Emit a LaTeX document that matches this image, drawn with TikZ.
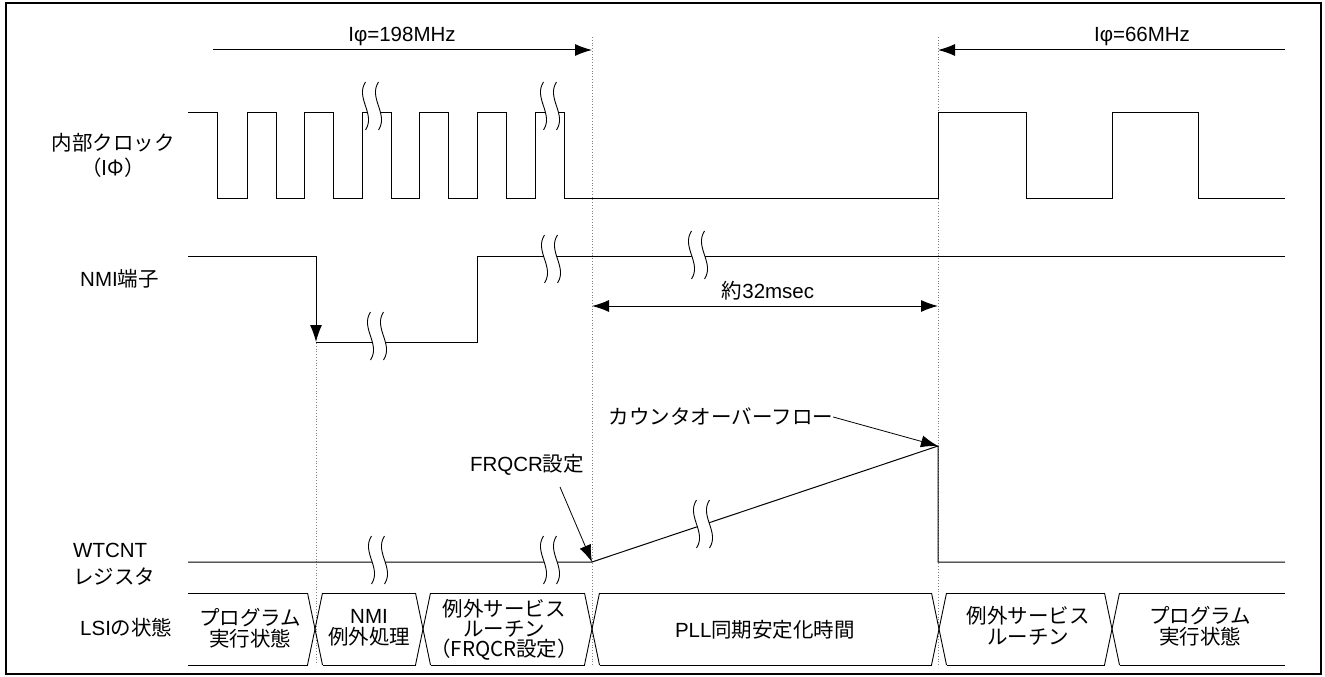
\documentclass[tikz,border=0pt]{standalone}
\usepackage{fontspec}
\setmainfont{Liberation Sans}
\newfontfamily\jp{Noto Sans CJK JP}
\usetikzlibrary{arrows.meta}
\begin{document}
\begin{tikzpicture}[x=1pt,y=-1pt,
  sig/.style={line width=1pt, line join=miter},
  guide/.style={gray, dotted, line width=0.8pt},
  arr/.style={line width=1pt, -{Latex[length=17pt,width=12pt]}},
  darr/.style={line width=1pt, {Latex[length=17pt,width=12pt]}-{Latex[length=17pt,width=12pt]}},
  thinarr/.style={line width=0.8pt, -{Latex[length=17pt,width=12pt]}},
  lbl/.style={inner sep=0pt, font=\fontsize{20.5}{21}\selectfont, align=center},
  brk/.pic={
    \fill[white] (-6.5,-24) .. controls (-17,-8) and (4,8) .. (-6.5,24) -- (6.5,24) .. controls (17,8) and (-4,-8) .. (6.5,-24) -- cycle;
    \draw[line width=0.9pt] (-6.5,-24) .. controls (-17,-8) and (4,8) .. (-6.5,24);
    \draw[line width=0.9pt] (6.5,-24) .. controls (-4,-8) and (17,8) .. (6.5,24);
  }
]
\useasboundingbox (0,0) rectangle (1325,677);
\draw[line width=2pt] (6,3) rectangle (1321,674);

% guides
\draw[guide] (316,343) -- (316,665);
\draw[guide] (592,37) -- (592,665);
\draw[guide] (938,37) -- (938,665);

% top frequency arrows
\coordinate (fA) at (592,50);
\coordinate (fB) at (938,50);
\coordinate (fAs) at (213,50);
\coordinate (fBs) at (1285,50);
\draw[arr] (fAs) -- (fA);
\draw[arr] (fBs) -- (fB);
\node[lbl] (f198) at (402,36) {Iφ=198MHz};
\node[lbl] (f66) at (1142,36) {Iφ=66MHz};

% left labels
\node[lbl, font=\fontsize{20.5}{25}\selectfont] (lclk) at (113,155) {\jp 内部クロック\\\jp （IΦ）};
\node[lbl, anchor=west] (lnmi) at (80,279) {NMI{\jp 端子}};
\node[lbl, anchor=west] (lwt1) at (73,550) {WTCNT};
\node[lbl, anchor=west] (lwt2) at (73,577) {\jp レジスタ};
\node[lbl, anchor=west] (llsi) at (80,628) {LSI{\jp の状態}};

% clock
\draw[sig] (188,112) -- (217,112) -- (217,198) -- (247,198) -- (247,112) -- (276,112) -- (276,198)
  -- (304,198) -- (304,112) -- (333,112) -- (333,198) -- (362,198) -- (362,112) -- (391,112)
  -- (391,198) -- (419,198) -- (419,112) -- (448,112) -- (448,198) -- (477,198) -- (477,112)
  -- (506,112) -- (506,198) -- (535,198) -- (535,112) -- (564,112) -- (564,198) -- (938,198)
  -- (938,112) -- (1026,112) -- (1026,198) -- (1112,198) -- (1112,112) -- (1198,112)
  -- (1198,198) -- (1285,198);
\pic at (372,106) {brk};
\pic at (550,106) {brk};

% NMI
\coordinate (nHi) at (316,256);
\coordinate (nLo) at (316,342);
\draw[sig] (188,256) -- (nHi);
\draw[arr] (nHi) -- (nLo);
\draw[sig] (nLo) -- (477,342) -- (477,256) -- (1285,256);
\pic at (377,336) {brk};
\pic at (551,259) {brk};
\pic at (698,255) {brk};

% 32 msec
\coordinate (mA) at (592,306);
\coordinate (mB) at (938,306);
\draw[darr] (mA) -- (mB);
\node[lbl] (m32) at (768,291) {{\jp 約}32msec};

% WTCNT
\coordinate (wStart) at (592,562);
\coordinate (wTop) at (938,446);
\draw[sig] (188,562) -- (wStart) -- (wTop) -- (938,562) -- (1285,562);
\pic at (378,560) {brk};
\pic at (550,560) {brk};
\pic at (703,524) {brk};

\node[lbl] (frq) at (527,465) {FRQCR{\jp 設定}};
\coordinate (frqS) at (560,487);
\draw[thinarr] (frqS) -- (wStart);
\node[lbl] (ovf) at (721,417) {\jp カウンタオーバーフロー};
\draw[thinarr] (ovf.east) -- (wTop);

% LSI state row
\foreach \a/\b in {188/307.5, 322.5/415.5, 430.5/584.5, 599.5/931.5, 946.5/1104.5, 1119.5/1285}{
  \draw[line width=0.9pt] (\a,593) -- (\b,593);
  \draw[line width=0.9pt] (\a,665) -- (\b,665);
}
\foreach \c in {315,423,592,939,1112}{
  \draw[line width=0.9pt] (\c-7.5,593) -- (\c+7.5,665);
  \draw[line width=0.9pt] (\c+7.5,593) -- (\c-7.5,665);
}
\node[lbl] (s1) at (250,628) {\jp プログラム\\\jp 実行状態};
\node[lbl] (s2) at (369,628) {NMI\\\jp 例外処理};
\node[lbl, font=\fontsize{20.5}{20}\selectfont] (s3) at (504,630) {\jp 例外サービス\\\jp ルーチン\\\jp （FRQCR設定）};
\node[lbl] (s4) at (765,630) {PLL{\jp 同期安定化時間}};
\node[lbl] (s5) at (1028,626) {\jp 例外サービス\\\jp ルーチン};
\node[lbl] (s6) at (1200,626) {\jp プログラム\\\jp 実行状態};
\end{tikzpicture}
\end{document}
